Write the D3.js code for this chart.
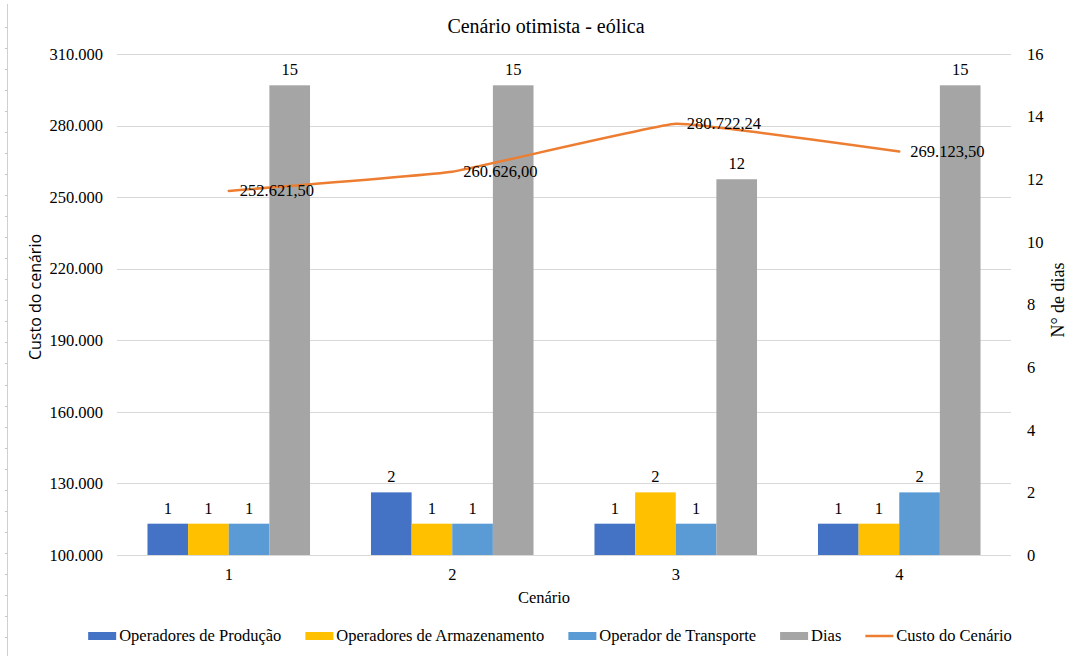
<!DOCTYPE html>
<html>
<head>
<meta charset="utf-8">
<script src="https://cdn.jsdelivr.net/npm/d3@7"></script>
<style>
  html, body { margin: 0; padding: 0; background: #fff; }
  svg { display: block; }
  text { font-family: "Liberation Serif", Tinos, "Times New Roman", Times, "Nimbus Roman", "DejaVu Serif", serif; fill: #000; }
</style>
</head>
<body>
<svg id="chart" width="1079" height="656"></svg>
<script>
// Scenario data
const categories = ["1", "2", "3", "4"];
const seriesNames = ["Operadores de Produção", "Operadores de Armazenamento", "Operador de Transporte", "Dias"];
const producao = [1, 2, 1, 1];
const armazenamento = [1, 1, 2, 1];
const transporte = [1, 1, 1, 2];
const dias = [15, 15, 12, 15];
const custo = [252621.50, 260626.00, 280722.24, 269123.50];
const custoLabels = ["252.621,50", "260.626,00", "280.722,24", "269.123,50"];
const leftTicks = [100000, 130000, 160000, 190000, 220000, 250000, 280000, 310000];
const rightTicks = [0, 2, 4, 6, 8, 10, 12, 14, 16];
const lineName = "Custo do Cenário";

const colors = ["#4472C4", "#FFC000", "#5B9BD5", "#A5A5A5"];
const lineColor = "#ED7D31";
const gridColor = "#D9D9D9";
const fs = "16.5px";

const svg = d3.select("#chart");
const W = 1079, H = 656;
const plot = { left: 117, right: 1011, top: 54, bottom: 555 };

// Page ruler on the left edge
const ruler = svg.append("g");
ruler.append("line").attr("x1", 7.5).attr("x2", 7.5).attr("y1", 4).attr("y2", H)
  .attr("stroke", "#D0D0D0").attr("stroke-width", 1);
d3.range(27, H, 21.03).forEach(y => {
  ruler.append("line").attr("x1", 5).attr("x2", 7.5).attr("y1", Math.round(y) + 0.5).attr("y2", Math.round(y) + 0.5)
    .attr("stroke", "#C8C8C8").attr("stroke-width", 1);
});

const x = d3.scaleBand().domain(categories).range([plot.left, plot.right]).paddingInner(0).paddingOuter(0);
const yLeft = d3.scaleLinear().domain([100000, 310000]).range([plot.bottom, plot.top]);
const yRight = d3.scaleLinear().domain([0, 16]).range([plot.bottom, plot.top]);

// Gap width 150% of a bar => group occupies 4 / (4 + 1.5) of the band
const groupW = x.bandwidth() * 4 / 5.5;
const xs = d3.scaleBand().domain(d3.range(4)).range([0, groupW]).padding(0);
const groupOffset = (x.bandwidth() - groupW) / 2;

// Gridlines
const fmtLeft = d3.formatLocale({ decimal: ",", thousands: ".", grouping: [3] }).format(",.0f");
svg.append("g").selectAll("line").data(leftTicks).join("line")
  .attr("x1", plot.left).attr("x2", plot.right)
  .attr("y1", d => Math.round(yLeft(d)) + 0.5).attr("y2", d => Math.round(yLeft(d)) + 0.5)
  .attr("stroke", gridColor).attr("stroke-width", 1);

// Left axis labels
const leftAxis = d3.axisLeft(yLeft).tickValues(leftTicks).tickFormat(fmtLeft).tickSize(0).tickPadding(0);
const gL = svg.append("g").attr("transform", `translate(103,0)`).call(leftAxis);
gL.attr("font-family", null).attr("font-size", null);
gL.select(".domain").remove();
gL.selectAll("text").style("font-size", fs).attr("fill", "#000");

// Right axis labels
const rightAxis = d3.axisRight(yRight).tickValues(rightTicks).tickFormat(d3.format("d")).tickSize(0).tickPadding(0);
const gR = svg.append("g").attr("transform", `translate(1027,0)`).call(rightAxis);
gR.attr("font-family", null).attr("font-size", null);
gR.select(".domain").remove();
gR.selectAll("text").style("font-size", fs).attr("fill", "#000");

// Category axis labels
const bottomAxis = d3.axisBottom(x).tickSize(0).tickPadding(0);
const gB = svg.append("g").attr("transform", `translate(0,${plot.bottom})`).call(bottomAxis);
gB.attr("font-family", null).attr("font-size", null);
gB.select(".domain").remove();
gB.selectAll("text").attr("dy", null).attr("y", 25)
  .style("font-size", fs).attr("fill", "#000");

// Bars
const seriesData = [producao, armazenamento, transporte, dias];
seriesData.forEach((vals, si) => {
  const g = svg.append("g");
  g.selectAll("rect").data(vals).join("rect")
    .attr("x", (d, i) => x(categories[i]) + groupOffset + xs(si))
    .attr("width", xs.bandwidth())
    .attr("y", d => yRight(d))
    .attr("height", d => yRight(0) - yRight(d))
    .attr("fill", colors[si]);
  g.selectAll("text").data(vals).join("text")
    .attr("x", (d, i) => x(categories[i]) + groupOffset + xs(si) + xs.bandwidth() / 2)
    .attr("y", d => yRight(d) - 10)
    .attr("text-anchor", "middle")
    .style("font-size", fs)
    .text(d => d);
});

// Cost line
const cx = (d, i) => x(categories[i]) + x.bandwidth() / 2;
const line = d3.line().x(cx).y(d => yLeft(d)).curve(d3.curveCardinal.tension(0.75));
svg.append("path").datum(custo).attr("d", line)
  .attr("fill", "none").attr("stroke", lineColor).attr("stroke-width", 2.5).attr("stroke-linecap", "round");

svg.append("g").selectAll("text").data(custo).join("text")
  .attr("x", (d, i) => cx(d, i) + 11)
  .attr("y", d => yLeft(d))
  .attr("dominant-baseline", "central")
  .style("font-size", fs)
  .text((d, i) => custoLabels[i]);

// Title
svg.append("text").attr("x", 546).attr("y", 33).attr("text-anchor", "middle")
  .style("font-size", "20px").text("Cenário otimista - eólica");

// Axis titles
svg.append("text").attr("x", 544).attr("y", 603).attr("text-anchor", "middle")
  .style("font-size", fs).text("Cenário");
svg.append("text").attr("transform", "translate(35,297) rotate(-90)")
  .attr("text-anchor", "middle").attr("dominant-baseline", "central")
  .style("font-family", "'Open Sans', sans-serif").style("font-size", "16px").text("Custo do cenário");
svg.append("text").attr("transform", "translate(1058,300) rotate(-90)")
  .attr("text-anchor", "middle").attr("dominant-baseline", "central")
  .style("font-size", "18px").text("N° de dias");

// Legend
const legendItems = seriesNames.map((n, i) => ({ name: n, color: colors[i], type: "rect" }))
  .concat([{ name: lineName, color: lineColor, type: "line" }]);
const legend = svg.append("g");
let lx = 0;
const legendY = 636;
legendItems.forEach(item => {
  const g = legend.append("g").attr("transform", `translate(${lx},0)`);
  if (item.type === "rect") {
    g.append("rect").attr("x", 0).attr("y", legendY - 4).attr("width", 28).attr("height", 8).attr("fill", item.color);
  } else {
    g.append("line").attr("x1", 0).attr("x2", 28).attr("y1", legendY).attr("y2", legendY)
      .attr("stroke", item.color).attr("stroke-width", 2.5);
  }
  const t = g.append("text").attr("x", 31).attr("y", legendY + 5).style("font-size", fs).text(item.name);
  lx += 31 + t.node().getComputedTextLength() + 24;
});
const legendW = lx - 24;
legend.attr("transform", `translate(${550 - legendW / 2},0)`);
</script>
</body>
</html>
